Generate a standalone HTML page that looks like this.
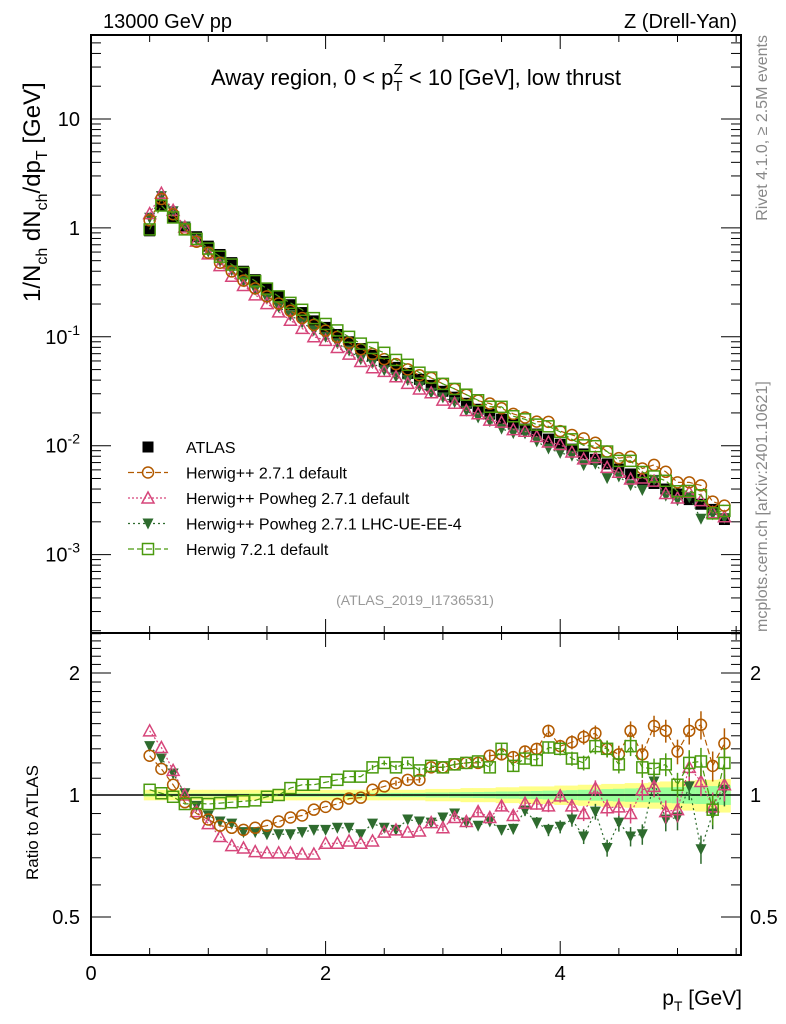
<!DOCTYPE html>
<html><head><meta charset="utf-8">
<style>
html,body{margin:0;padding:0;background:#fff;}
svg{display:block;font-family:"Liberation Sans",Arial,sans-serif;}
</style></head>
<body>
<svg id="chart" width="786" height="1024" viewBox="0 0 786 1024" xmlns="http://www.w3.org/2000/svg">
<g id="band"></g>
<g id="axes"></g>
<g id="series"></g>
<text x="103" y="28" font-size="20">13000 GeV pp</text>
<text x="737" y="28" font-size="20" text-anchor="end">Z (Drell-Yan)</text>
<text x="416" y="85" font-size="22" text-anchor="middle">Away region, 0 &lt; p<tspan font-size="15" dy="6">T</tspan><tspan font-size="15" dx="-9" dy="-17">Z</tspan><tspan dy="11"> &lt; 10 [GeV], low thrust</tspan></text>
<text x="415" y="605" font-size="14" fill="#999" text-anchor="middle">(ATLAS_2019_I1736531)</text>
<text transform="translate(767,35) rotate(-90)" font-size="16" fill="#888" text-anchor="end">Rivet 4.1.0, ≥ 2.5M events</text>
<text transform="translate(767,632) rotate(-90)" font-size="16" fill="#888">mcplots.cern.ch [arXiv:2401.10621]</text>
<text transform="translate(40,302) rotate(-90)" font-size="24">1/N<tspan font-size="16" dy="7">ch</tspan><tspan dy="-7"> dN</tspan><tspan font-size="16" dy="7">ch</tspan><tspan dy="-7">/dp</tspan><tspan font-size="16" dy="7">T</tspan><tspan dy="-7"> [GeV]</tspan></text>
<text transform="translate(38,880) rotate(-90)" font-size="17">Ratio to ATLAS</text>
<text x="742" y="1005" font-size="21" text-anchor="end">p<tspan font-size="14" dy="6">T</tspan><tspan dy="-6"> [GeV]</tspan></text>
<g id="legend"></g>
</svg>
<script>
const xs = [0.5,0.6,0.7,0.8,0.9,1.0,1.1,1.2,1.3,1.4,1.5,1.6,1.7,1.8,1.9,2.0,2.1,2.2,2.3,2.4,2.5,2.6,2.7,2.8,2.9,3.0,3.1,3.2,3.3,3.4,3.5,3.6,3.7,3.8,3.9,4.0,4.1,4.2,4.3,4.4,4.5,4.6,4.7,4.8,4.9,5.0,5.1,5.2,5.3,5.4];
const atlas = [0.94,1.59,1.26,1.02,0.83,0.68,0.57,0.48,0.40,0.335,0.28,0.235,0.197,0.167,0.14,0.122,0.105,0.090,0.078,0.0675,0.0594,0.0524,0.0461,0.0407,0.0358,0.0316,0.0279,0.0245,0.0216,0.0195,0.0175,0.0158,0.0142,0.0128,0.0115,0.0103,0.0093,0.0084,0.0075,0.0068,0.0061,0.0055,0.0049,0.0045,0.0040,0.0036,0.0032,0.0029,0.0026,0.0021];
const ratioHw271 = [1.25,1.16,1.06,0.96,0.90,0.87,0.84,0.83,0.82,0.83,0.84,0.86,0.88,0.89,0.92,0.935,0.95,0.98,0.985,1.03,1.05,1.07,1.09,1.09,1.17,1.17,1.19,1.2,1.2,1.25,1.26,1.24,1.28,1.3,1.44,1.32,1.35,1.39,1.42,1.3,1.26,1.44,1.26,1.48,1.44,1.28,1.44,1.49,1.18,1.34];
const ratioPowheg = [1.44,1.31,1.15,1.0,0.91,0.85,0.79,0.75,0.74,0.725,0.72,0.72,0.72,0.715,0.715,0.76,0.76,0.77,0.76,0.77,0.81,0.82,0.81,0.815,0.855,0.83,0.88,0.86,0.91,0.88,0.94,0.89,0.955,0.95,0.94,0.995,0.94,0.90,1.04,0.93,0.935,0.9,1.03,1.05,0.91,0.92,1.17,1.08,0.935,1.06];
const ratioPowhegUE = [1.32,1.23,1.13,1.01,0.94,0.89,0.86,0.85,0.81,0.81,0.80,0.80,0.80,0.81,0.82,0.82,0.83,0.83,0.80,0.85,0.83,0.82,0.87,0.86,0.855,0.88,0.9,0.855,0.84,0.86,0.82,0.825,0.915,0.855,0.82,0.835,0.87,0.79,0.91,0.74,0.855,0.79,0.80,1.08,0.87,0.88,1.05,0.735,0.9,1.03];
const ratioHw721 = [1.03,1.01,0.99,0.95,0.955,0.95,0.955,0.96,0.965,0.97,0.99,1.0,1.04,1.06,1.06,1.075,1.09,1.11,1.11,1.17,1.2,1.17,1.2,1.15,1.18,1.17,1.19,1.2,1.21,1.17,1.3,1.18,1.23,1.22,1.31,1.3,1.23,1.2,1.32,1.3,1.19,1.32,1.17,1.16,1.19,1.06,1.2,1.21,0.92,1.2];
const mcErr = [0.01,0.01,0.01,0.01,0.01,0.01,0.01,0.01,0.01,0.01,0.01,0.01,0.01,0.01,0.01,0.01,0.012,0.012,0.012,0.014,0.014,0.015,0.016,0.017,0.018,0.02,0.02,0.022,0.024,0.025,0.027,0.03,0.03,0.032,0.035,0.037,0.04,0.042,0.045,0.048,0.05,0.055,0.058,0.06,0.065,0.07,0.075,0.08,0.085,0.09];
const bandOuter = [0.03,0.03,0.03,0.03,0.03,0.03,0.03,0.03,0.03,0.03,0.03,0.03,0.03,0.03,0.03,0.03,0.03,0.03,0.03,0.03,0.03,0.03,0.03,0.03,0.035,0.035,0.035,0.04,0.04,0.04,0.045,0.045,0.05,0.05,0.05,0.055,0.055,0.06,0.06,0.065,0.065,0.07,0.07,0.075,0.08,0.08,0.085,0.09,0.09,0.095];
const bandInner = [0.008,0.008,0.008,0.008,0.008,0.008,0.008,0.008,0.008,0.008,0.008,0.008,0.01,0.01,0.01,0.01,0.01,0.01,0.01,0.01,0.012,0.012,0.012,0.012,0.014,0.014,0.015,0.016,0.017,0.018,0.02,0.02,0.022,0.023,0.025,0.026,0.028,0.03,0.032,0.034,0.036,0.038,0.04,0.042,0.044,0.046,0.048,0.05,0.052,0.055];
const xTicks = [0,2,4];
const mainTickLabels = ["10","1","10^-1","10^-2","10^-3"];
const mainTickValues = [10,1,0.1,0.01,0.001];
const ratioTickValues = [2,1,0.5];

const NS="http://www.w3.org/2000/svg";
const L=91,R=741,T=35,MB=633,B=955;
const XMAX=(R-L)/117.3;
function X(v){return L+v*117.3;}
function YM(v){return 119+(1-Math.log10(v))*108.9;}
function YR(v){return 795-Math.log2(v)*122;}
function el(tag,attrs,parent){const e=document.createElementNS(NS,tag);for(const k in attrs)e.setAttribute(k,attrs[k]);parent.appendChild(e);return e;}
const axes=document.getElementById('axes'),series=document.getElementById('series'),band=document.getElementById('band'),legend=document.getElementById('legend');

const hw=(X(0.6)-X(0.5))/2;
for(let i=0;i<xs.length;i++){
  const r1=el('rect',{x:X(xs[i])-hw,y:YR(1+bandOuter[i]),width:2*hw+0.5,height:YR(1-bandOuter[i])-YR(1+bandOuter[i]),fill:'#ffff88'},band);
  
  
  const r2=el('rect',{x:X(xs[i])-hw,y:YR(1+bandInner[i]),width:2*hw+0.5,height:YR(1-bandInner[i])-YR(1+bandInner[i]),fill:'#99ff99'},band);
  
  
}

const f1=el('rect',{x:L,y:T,width:R-L,height:MB-T,fill:'none',stroke:'#000','stroke-width':2},axes);


const f2=el('rect',{x:L,y:MB,width:R-L,height:B-MB,fill:'none',stroke:'#000','stroke-width':2},axes);


const one=el('line',{x1:L,x2:R,y1:YR(1),y2:YR(1),stroke:'#000','stroke-width':1.5},axes);



for(let v=0;v<=XMAX;v+=0.5){
  const major=Math.abs(v/2-Math.round(v/2))<1e-6;
  const len=major?14:7;
  [[B,-1],[MB,1],[MB,-1],[T,1]].forEach(([y,d])=>{
    const t=el('line',{x1:X(v),x2:X(v),y1:y,y2:y+d*len,stroke:'#000','stroke-width':1},axes);
    
    
  });
}
xTicks.forEach(v=>{
  const t=el('text',{x:X(v),y:980,'font-size':20,'text-anchor':'middle'},axes);
  t.textContent=String(v);
  
  
});
for(let d=-4;d<=1;d++){
  for(let m=1;m<=9;m++){
    const v=m*Math.pow(10,d);const y=YM(v);
    if(y<T||y>MB)continue;
    const len=m===1?20:10;
    [[L,1],[R,-1]].forEach(([x,s])=>{
      const t=el('line',{x1:x,x2:x+s*len,y1:y,y2:y,stroke:'#000','stroke-width':1},axes);
      
      
    });
  }
}
mainTickValues.forEach((v,i)=>{
  const lab=mainTickLabels[i];const y=YM(v)+7;
  const t=el('text',{x:80,y:y,'font-size':20,'text-anchor':'end'},axes);
  if(lab.indexOf('^')>=0){const p=lab.split('^');t.textContent=p[0];const s=el('tspan',{'font-size':14,dy:-9},t);s.textContent=p[1];}
  else t.textContent=lab;
  
  
});
for(let v=0.4;v<=2.5001;v+=0.1){
  const y=YR(v);if(y<MB||y>B)continue;
  const major=ratioTickValues.some(r=>Math.abs(r-v)<1e-6);
  const len=major?20:10;
  [[L,1],[R,-1]].forEach(([x,s])=>{
    const t=el('line',{x1:x,x2:x+s*len,y1:y,y2:y,stroke:'#000','stroke-width':1},axes);
    
    
  });
}
ratioTickValues.forEach(v=>{
  const t1=el('text',{x:80,y:YR(v)+7,'font-size':20,'text-anchor':'end'},axes);
  t1.textContent=String(v);
  
  
  const t2=el('text',{x:750,y:YR(v)+7,'font-size':20},axes);
  t2.textContent=String(v);
  
  
});

function marker(type,color,x,y,parent,name){
  let m;
  if(type==='fsq'){m=el('rect',{x:x-5.5,y:y-5.5,width:11,height:11,fill:'#000'},parent);}
  else if(type==='circ'){m=el('circle',{cx:x,cy:y,r:5.5,fill:'none',stroke:color,'stroke-width':1.5},parent);}
  else if(type==='tri'){m=el('polygon',{points:`${x},${y-6} ${x-6},${y+5} ${x+6},${y+5}`,fill:'none',stroke:color,'stroke-width':1.5},parent);}
  else if(type==='dtri'){m=el('polygon',{points:`${x-5.5},${y-5} ${x+5.5},${y-5} ${x},${y+6}`,fill:color},parent);}
  else {m=el('rect',{x:x-5.5,y:y-5.5,width:11,height:11,fill:'none',stroke:color,'stroke-width':1.5},parent);}
  
  
  return m;
}

const mcs=[
 {r:ratioHw721,type:'sq',color:'#4a9a0e',dash:'6,3',name:'herwig-7-2-1',label:'Herwig 7.2.1 default'},
 {r:ratioHw271,type:'circ',color:'#b25a00',dash:'6,3',name:'herwig-2-7-1',label:'Herwig++ 2.7.1 default'},
 {r:ratioPowheg,type:'tri',color:'#d6457a',dash:'2,2',name:'herwig-powheg',label:'Herwig++ Powheg 2.7.1 default'},
 {r:ratioPowhegUE,type:'dtri',color:'#2e6b2e',dash:'2,3',name:'herwig-powheg-ue',label:'Herwig++ Powheg 2.7.1 LHC-UE-EE-4'}
];

const ga=el('g',{},series);


xs.forEach((x,i)=>marker('fsq','#000',X(x),YM(atlas[i]),ga,'atlas-point'));

mcs.slice().reverse().forEach(s=>{
  const g=el('g',{},series);
  
  
  let pm='',pr='';
  xs.forEach((x,i)=>{
    const ym=YM(atlas[i]*s.r[i]),yr=YR(s.r[i]);
    pm+=(i?'L':'M')+X(x)+','+ym;pr+=(i?'L':'M')+X(x)+','+yr;
  });
  const l1=el('path',{d:pm,fill:'none',stroke:s.color,'stroke-width':1.2,'stroke-dasharray':s.dash},g);
  
  
  const l2=el('path',{d:pr,fill:'none',stroke:s.color,'stroke-width':1.2,'stroke-dasharray':s.dash},g);
  
  
  xs.forEach((x,i)=>{
    const e=s.r[i]*mcErr[i];
    if(e>0.015){
      const eb=el('line',{x1:X(x),x2:X(x),y1:YR(s.r[i]+e),y2:YR(s.r[i]-e),stroke:s.color,'stroke-width':1.5},g);
      
      
    }
    marker(s.type,s.color,X(x),YM(atlas[i]*s.r[i]),g,s.name+'-point');
    marker(s.type,s.color,X(x),YR(s.r[i]),g,s.name+'-ratio-point');
  });
});

const leg=[{type:'fsq',color:'#000',label:'ATLAS',name:'legend-atlas',dash:null}].concat([mcs[1],mcs[2],mcs[3],mcs[0]].map(s=>({type:s.type,color:s.color,label:s.label,name:'legend-'+s.name,dash:s.dash})));
leg.forEach((e,i)=>{
  const y=447+i*25.5;
  const g=el('g',{},legend);
  
  
  if(e.dash){
    const ln=el('line',{x1:128,x2:168,y1:y,y2:y,stroke:e.color,'stroke-width':1.2,'stroke-dasharray':e.dash},g);
    
    
  }
  marker(e.type,e.color,148,y,g,'legend-marker');
  const t=el('text',{x:186,y:y+6,'font-size':16},g);
  t.textContent=e.label;
  
  
});
</script>
</body></html>
